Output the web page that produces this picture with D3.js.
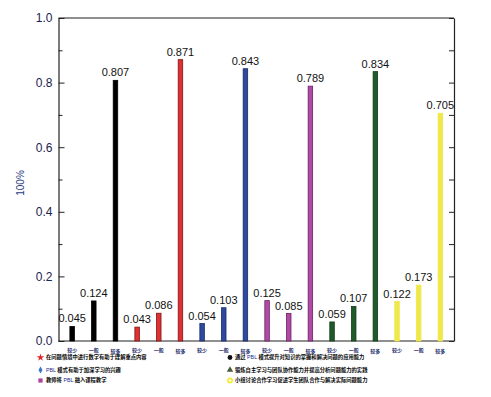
<!DOCTYPE html>
<html>
<head>
<meta charset="utf-8">
<script src="https://cdn.jsdelivr.net/npm/d3@7"></script>
<style>
  body { margin: 0; background: #fff; }
  svg { display: block; }
</style>
</head>
<body>
<svg id="chart" width="491" height="397"></svg>
<script>
// levels repeat for every group of three bars
var levels = ['较少', '一般', '较多'];
var groupColors = ['#000000', '#e03030', '#2d4a9e', '#b04aa6', '#1f5a2a', '#eee84a'];
var groupStrokes = ['#000000', '#7a1515', '#1a2a66', '#6a2060', '#123a18', '#eee84a'];
var values = [0.045, 0.124, 0.807,
              0.043, 0.086, 0.871,
              0.054, 0.103, 0.843,
              0.125, 0.085, 0.789,
              0.059, 0.107, 0.834,
              0.122, 0.173, 0.705];
var yTicks = [0, 0.2, 0.4, 0.6, 0.8, 1.0];

var legendLabels = [
    ['', '', '在问题情境中进行数学有助于理解重点内容'],
    ['', '', '通过', 'PBL', '模式提升对知识的掌握和解决问题的应用能力'],
    ['', 'PBL', '模式有助于加深学习的兴趣'],
    ['', '', '锻炼自主学习与团队协作能力并提高分析问题能力的实践'],
    ['', '', '教师将', 'PBL', '融入课程教学'],
    ['', '', '小组讨论合作学习促进学生团队合作与解决实际问题能力']
];
var legendSymbols = ['star', 'circle', 'diamond', 'triangle', 'square', 'ring'];
var legendColors = ['#e52525', '#111111', '#3a78c8', '#4a5a3a', '#b040a0', '#f2ea30'];

var svg = d3.select('#chart');
var margin = { top: 18, right: 37, bottom: 56, left: 58.5 };
var width = 491 - margin.left - margin.right;
var height = 397 - margin.top - margin.bottom;
var g = svg.append('g').attr('transform', 'translate(' + margin.left + ',' + margin.top + ')');

var bars = values.map(function(v, i) {
    return { key: i, value: v, level: levels[i % 3], group: Math.floor(i / 3) };
});

var x = d3.scalePoint()
    .domain(bars.map(function(d) { return d.key; }))
    .range([0, width])
    .padding(0.63);

var y = d3.scaleLinear()
    .domain([0, 1])
    .range([height, 0]);

var tickColor = '#1c2250';

// frame lines
g.append('line').attr('x1', 0).attr('x2', width).attr('y1', 0).attr('y2', 0)
    .attr('stroke', '#222').attr('stroke-width', 1.2);
g.append('line').attr('x1', 0).attr('x2', width).attr('y1', height).attr('y2', height)
    .attr('stroke', '#222').attr('stroke-width', 1.2);

// left axis, ticks pointing inward
var leftAxis = g.append('g')
    .call(d3.axisLeft(y).tickValues(yTicks).tickSizeInner(-6).tickSizeOuter(0).tickPadding(6)
        .tickFormat(d3.format('.1f')));
leftAxis.select('.domain').attr('stroke', '#222').attr('stroke-width', 1.2);
leftAxis.selectAll('.tick line').attr('stroke', '#222');
leftAxis.selectAll('text')
    .attr('font-family', 'Liberation Sans, Arial, sans-serif')
    .attr('font-size', 12)
    .attr('fill', tickColor);

g.append('g')
    .call(d3.axisLeft(y).tickValues([0.1, 0.3, 0.5, 0.7, 0.9]).tickSizeInner(-4).tickSizeOuter(0).tickFormat(''))
    .call(function(a) { a.select('.domain').remove(); a.selectAll('.tick line').attr('stroke', '#222'); });

// right axis
g.append('g')
    .attr('transform', 'translate(' + width + ',0)')
    .call(d3.axisRight(y).ticks(10).tickSizeInner(-5).tickSizeOuter(0).tickFormat(''))
    .call(function(a) {
        a.select('.domain').attr('stroke', '#222').attr('stroke-width', 1.2);
        a.selectAll('.tick line').attr('stroke', '#222');
    });

// y title
svg.append('text')
    .attr('transform', 'translate(24,183) rotate(-90)')
    .attr('text-anchor', 'middle')
    .attr('font-family', 'Liberation Sans, Arial, sans-serif')
    .attr('font-size', 10)
    .attr('fill', '#2a3c80')
    .text('100%');

// bars
var barW = 4.5;
g.selectAll('rect.bar')
    .data(bars)
    .enter().append('rect')
    .attr('class', 'bar')
    .attr('x', function(d) { return x(d.key) - barW / 2; })
    .attr('y', function(d) { return y(d.value); })
    .attr('width', barW)
    .attr('height', function(d) { return height - y(d.value); })
    .attr('fill', function(d) { return groupColors[d.group]; })
    .attr('stroke', function(d) { return groupStrokes[d.group]; })
    .attr('stroke-width', 0.8);

// value labels
g.selectAll('text.val')
    .data(bars)
    .enter().append('text')
    .attr('class', 'val')
    .attr('x', function(d) { return x(d.key); })
    .attr('y', function(d) { return y(d.value) - 4; })
    .attr('text-anchor', 'middle')
    .attr('font-family', 'Liberation Sans, Arial, sans-serif')
    .attr('font-size', 11)
    .attr('fill', '#111')
    .text(function(d) { return d3.format('.3f')(d.value); });

// category labels under the axis
g.selectAll('text.cat')
    .data(bars)
    .enter().append('text')
    .attr('class', 'cat')
    .attr('x', function(d) { return x(d.key); })
    .attr('y', function(d) { return height + (d.level === '较多' ? 12 : 10.5); })
    .attr('text-anchor', 'middle')
    .attr('font-family', 'Noto Sans CJK SC, sans-serif')
    .attr('font-size', 5)
    .attr('font-weight', 700)
    .attr('fill', '#1a2a6a')
    .text(function(d) { return d.level; });

// legend
var legendX = [40.5, 230];
var legendTextX = [46, 235];
var legendY = [357.5, 370, 380.5];
var legend = svg.append('g');
legendLabels.forEach(function(parts, i) {
    var col = i % 2, row = Math.floor(i / 2);
    var cx = legendX[col], cy = legendY[row];
    var sym = legendSymbols[i], c = legendColors[i];
    if (sym === 'ring') {
        legend.append('circle').attr('cx', cx).attr('cy', cy).attr('r', 2.2)
            .attr('fill', '#fffbd0').attr('stroke', c).attr('stroke-width', 1.4);
    } else {
        var type = { star: d3.symbolStar, circle: d3.symbolCircle, diamond: d3.symbolDiamond,
                     triangle: d3.symbolTriangle, square: d3.symbolSquare }[sym];
        legend.append('path')
            .attr('transform', 'translate(' + cx + ',' + cy + ')')
            .attr('d', d3.symbol().type(type).size(sym === 'diamond' ? 14 : 18)())
            .attr('fill', c);
    }
    var t = legend.append('text')
        .attr('x', legendTextX[col])
        .attr('y', cy + 1.8)
        .attr('font-family', 'Noto Sans CJK SC, sans-serif')
        .attr('font-size', 5.3)
        .attr('font-weight', 700)
        .attr('fill', '#000');
    parts.slice(1).forEach(function(p) {
        if (!p) return;
        t.append('tspan')
            .attr('fill', p === 'PBL' ? '#1a2a8a' : '#000')
            .attr('font-family', p === 'PBL' ? 'Liberation Sans, sans-serif' : null)
            .attr('font-weight', p === 'PBL' ? 400 : null)
            .text(p === 'PBL' ? ' PBL ' : p);
    });
});
</script>
</body>
</html>
